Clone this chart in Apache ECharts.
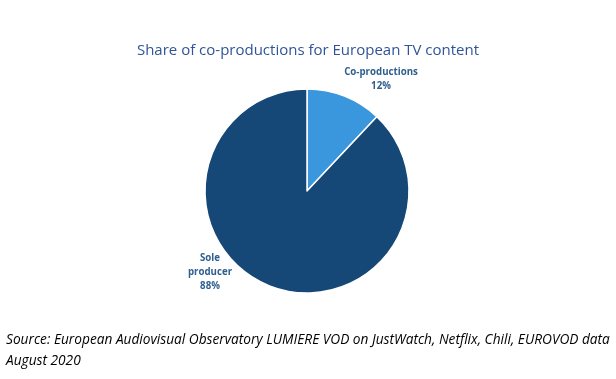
<!DOCTYPE html>
<html><head><meta charset="utf-8">
<script src="https://cdn.jsdelivr.net/npm/echarts@6/dist/echarts.min.js"></script>
<style>html,body{margin:0;padding:0;background:#fff}#c{width:616px;height:379px}</style>
</head><body><div id="c"></div>
<script>
const categories = ['Co-productions', 'Sole\nproducer'];
const values = [12, 88];
const colors = ['#3a96dd', '#154876'];
const titleText = 'Share of co-productions for European TV content';
const sourceLines = ['Source: European Audiovisual Observatory LUMIERE VOD on JustWatch, Netflix, Chili, EUROVOD data', 'August 2020'];

const chart = echarts.init(document.getElementById('c'));
const labelPos = [[381, 79], [210, 272]];
chart.setOption({
  animation: false,
  title: {
    text: titleText, left: 'center', top: 38,
    textStyle: { fontFamily: 'Open Sans', fontWeight: 'normal', fontSize: 15, color: '#2f5597' }
  },
  graphic: [{
    type: 'text', left: 6, top: 330,
    style: { text: sourceLines.join('\n'), font: 'italic 13.7px "Open Sans"', lineHeight: 21, fill: '#000' }
  }],
  series: [{
    type: 'pie', center: [307, 191], radius: 102, startAngle: 90, clockwise: true,
    data: categories.map((c, i) => ({ name: c, value: values[i], itemStyle: { color: colors[i] } })),
    itemStyle: { borderColor: '#fff', borderWidth: 1.5 },
    label: {
      show: true, position: 'outside', formatter: '{b}\n{d}%',
      fontFamily: 'Open Sans', fontWeight: 'bold', fontSize: 9.7, color: '#2e5f8f', lineHeight: 14, align: 'center'
    },
    labelLine: { show: false },
    labelLayout: p => ({ x: labelPos[p.dataIndex][0], y: labelPos[p.dataIndex][1], align: 'center', verticalAlign: 'middle' })
  }]
});
</script></body></html>
